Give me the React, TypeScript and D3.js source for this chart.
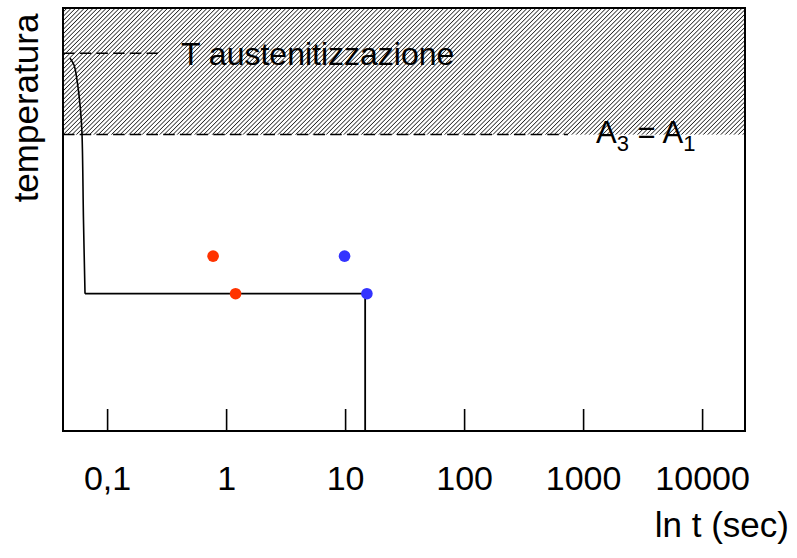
import React from "react";
import * as d3 from "d3";

// ---- data ----
const tickValues = [0.1, 1, 10, 100, 1000, 10000];
const tickLabels = ["0,1", "1", "10", "100", "1000", "10000"];

const tAustenite = 893; // T austenitizzazione level
const tA3 = 700; // A3 = A1 level
const tIso = 323; // isothermal hold level
const tHoldEnd = 14.6; // end of isothermal hold (s)

// cooling curve (time s, temperature)
const coolTime = [0.0483, 0.0522, 0.0558, 0.0592, 0.0609, 0.0627, 0.0646];
const coolTemp = [881, 865, 822, 758, 704, 498, 323];

// start / end points of transformation
const redTimes = [0.77, 1.19];
const redTemps = [412, 323];
const blueTimes = [9.8, 15.1];
const blueTemps = [412, 323];

const W = 797;
const H = 558;
const left = 63;
const right = 745;
const top = 8;
const bottom = 431;

export default function App() {
  const x = d3.scaleLog().domain([0.1, 10000]).range([107.6, 702.6]);
  const y = d3.scaleLinear().domain([0, 1000]).range([430, 8]);

  const coolPts: [number, number][] = coolTime.map((t, i) => [x(t), y(coolTemp[i])]);
  const coolPath = d3.line().curve(d3.curveCatmullRom.alpha(0.5))(coolPts) || "";
  const holdPath =
    d3.line()([
      [x(coolTime[coolTime.length - 1]), y(tIso)],
      [x(tHoldEnd), y(tIso)],
      [x(tHoldEnd), bottom],
    ]) || "";

  const font = "'Liberation Sans', Arial, Helvetica, sans-serif";

  return (
    <svg
      width={W}
      height={H}
      style={{ position: "absolute", left: 0, top: 0, background: "#fff" }}
      fontFamily={font}
    >
      <defs>
        <pattern
          id="hatch"
          width={3.1}
          height={3.1}
          patternUnits="userSpaceOnUse"
          patternTransform="rotate(45)"
        >
          <rect width={3.1} height={3.1} fill="#fff" />
          <line x1={0} y1={0} x2={0} y2={3.1} stroke="#1a1a1a" strokeWidth={1.5} />
        </pattern>
      </defs>
      <rect x={left} y={top} width={right - left} height={y(tA3) - top} fill="url(#hatch)" />

      {/* dashed levels */}
      <line x1={left} x2={158} y1={y(tAustenite)} y2={y(tAustenite)} stroke="#000" strokeWidth={1.5} strokeDasharray="11.5 5.2" />
      <line x1={left} x2={568} y1={y(tA3)} y2={y(tA3)} stroke="#000" strokeWidth={1.5} strokeDasharray="11.5 5.2" />

      {/* frame */}
      <rect x={left} y={top} width={right - left} height={bottom - top} fill="none" stroke="#000" strokeWidth={2} />

      {/* ticks */}
      {tickValues.map((v, i) => (
        <g key={i}>
          <line x1={x(v)} x2={x(v)} y1={bottom} y2={409} stroke="#000" strokeWidth={1.6} />
          <text x={x(v)} y={490} textAnchor="middle" fontSize={34}>
            {tickLabels[i]}
          </text>
        </g>
      ))}

      {/* curves */}
      <path d={coolPath} fill="none" stroke="#000" strokeWidth={1.6} />
      <path d={holdPath} fill="none" stroke="#000" strokeWidth={1.8} />

      {redTimes.map((t, i) => (
        <circle key={"r" + i} cx={x(t)} cy={y(redTemps[i])} r={5.8} fill="#ff3300" />
      ))}
      {blueTimes.map((t, i) => (
        <circle key={"b" + i} cx={x(t)} cy={y(blueTemps[i])} r={5.8} fill="#3333ff" />
      ))}

      {/* labels */}
      <text x={181} y={65} fontSize={32}>T austenitizzazione</text>
      <text x={596} y={143} fontSize={31}>
        A<tspan fontSize={22} dy={8}>3</tspan>
        <tspan dy={-8}> = A</tspan>
        <tspan fontSize={22} dy={8}>1</tspan>
      </text>
      <text
        transform="translate(38,108) rotate(-90)"
        textAnchor="middle"
        fontSize={35}
      >
        temperatura
      </text>
      <text x={789} y={537} textAnchor="end" fontSize={35}>ln t (sec)</text>
    </svg>
  );
}
